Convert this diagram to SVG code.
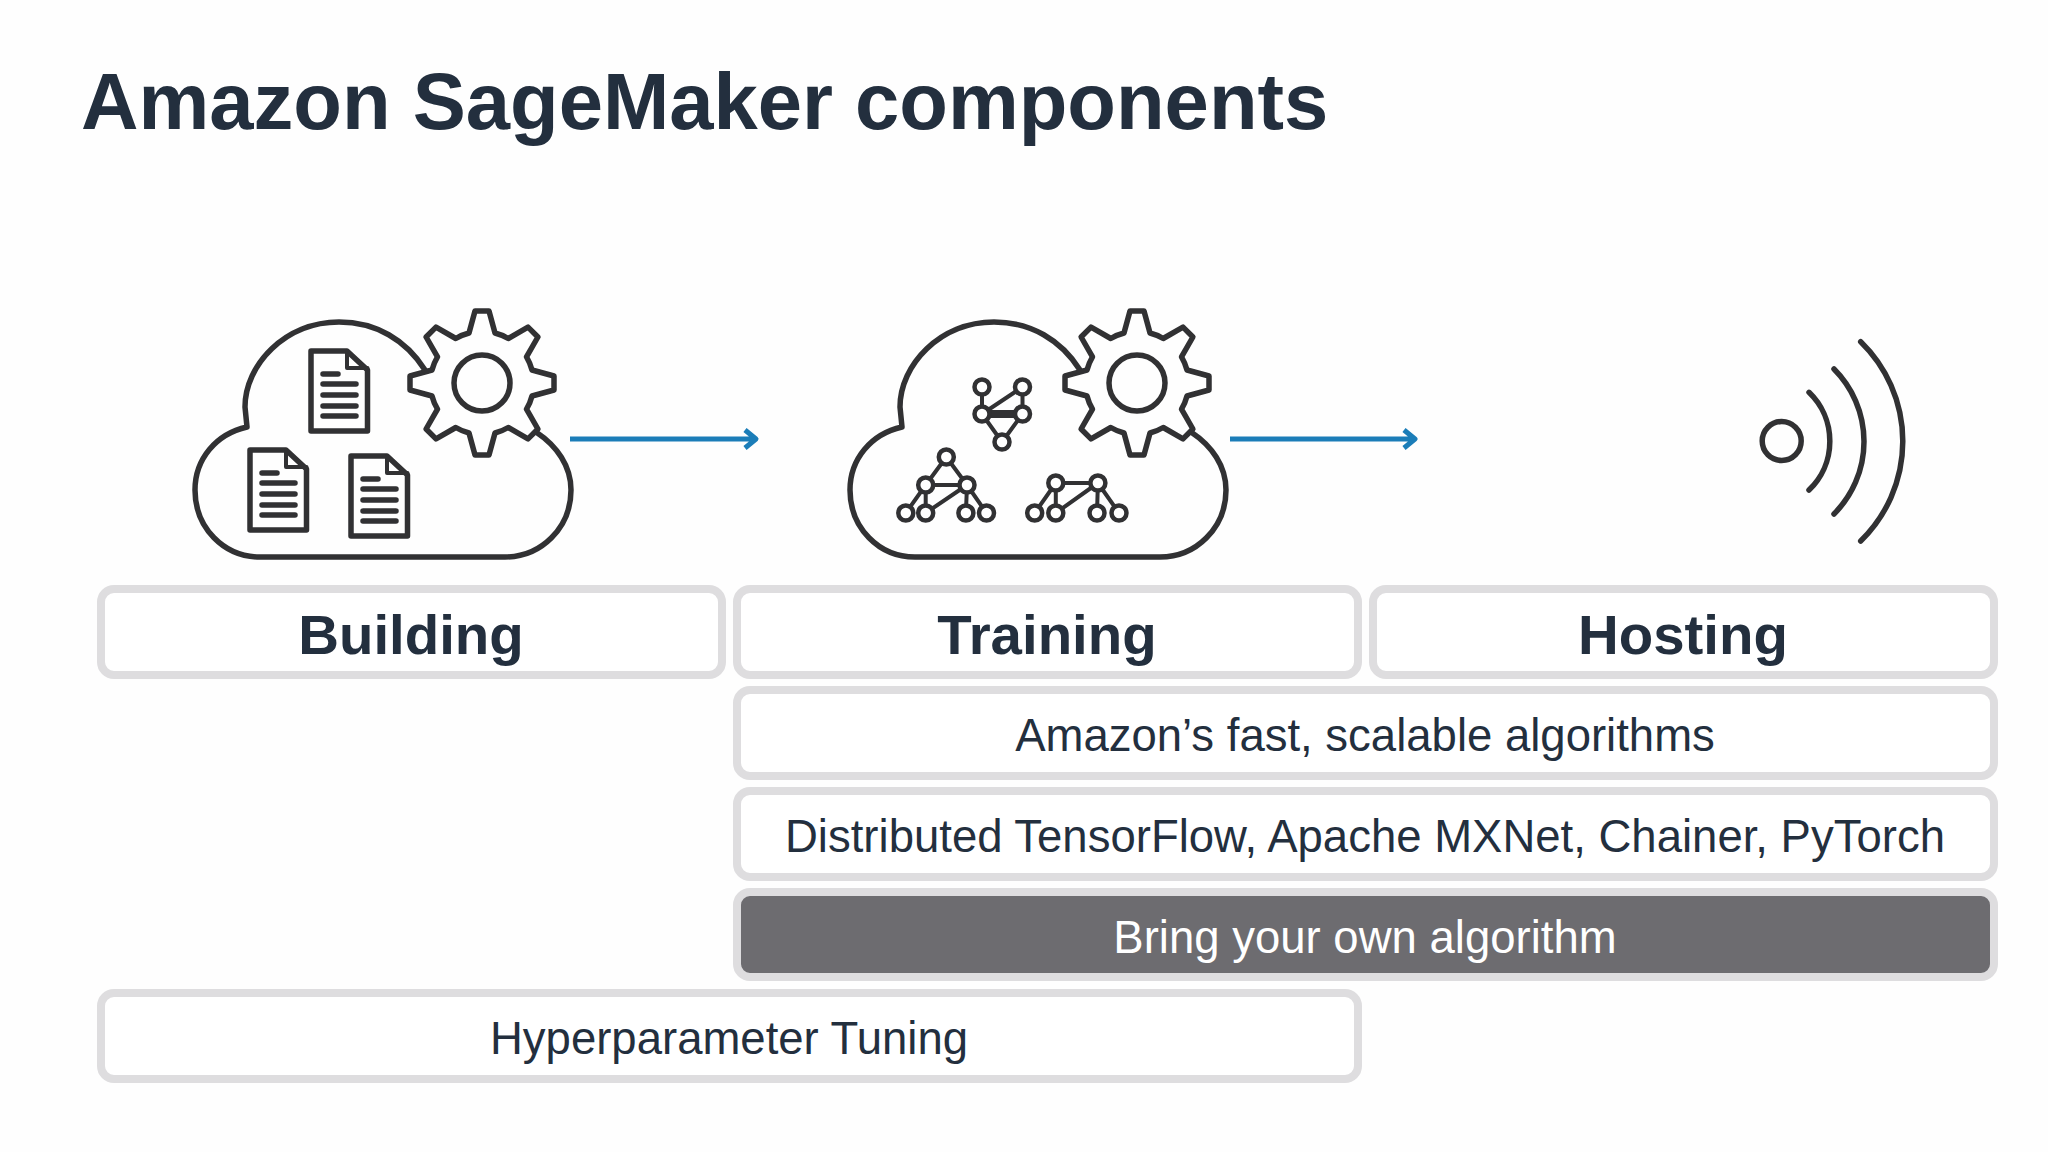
<svg xmlns="http://www.w3.org/2000/svg" width="2048" height="1152" viewBox="0 0 2048 1152">
<style>
text{font-family:"Liberation Sans",Arial,sans-serif;fill:#232f3e;text-anchor:middle}
.title{font-size:79.6px;font-weight:700;text-anchor:start}
.head{font-size:56.4px;font-weight:700}
.row{font-size:45.5px}
.box{fill:#fff;stroke:#dedddf;stroke-width:8}
.ic{fill:none;stroke:#313133;stroke-width:5.5;stroke-linecap:round;stroke-linejoin:round}
.thin{stroke-width:4}
.node{fill:#fff;stroke:#313133;stroke-width:4.5}
.conn{fill:none;stroke:#1b7db8;stroke-width:5;stroke-linecap:butt;stroke-linejoin:round}
</style>
<defs>
<g id="cloud"><path class="ic" d="M425 370C406 340 376 322 339 322C285 322 245 365 245 407L247 427C216 434 195 459 195 490C195 528 224 557 260 557H505C541 557 571 528 571 490C571 466 557 446 536 432"/>
<g transform="translate(482 383)"><path class="ic" d="M-13-50L-7-72H7L13-50A50 50 0 0 1 26.200-44.500L46-55.900L55.900-46L44.500-26.200A50 50 0 0 1 50-13L72-7V7L50 13A50 50 0 0 1 44.500 26.200L55.900 46L46 55.900L26.200 44.500A50 50 0 0 1 13 50L7 72H-7L-13 50A50 50 0 0 1-26.200 44.500L-46 55.900L-55.900 46L-44.500 26.200A50 50 0 0 1-50 13L-72 7V-7L-50-13A50 50 0 0 1-44.500-26.200L-55.900-46L-46-55.900L-26.200-44.500A50 50 0 0 1-13-50Z"/><circle class="ic" r="28"/></g></g>
<g id="doc"><path class="ic" d="M311 351H347L367.500 370V431H311Z"/><path class="ic thin" d="M347 351V368H367.500"/><path class="ic" d="M323 374H338M323 384H356M323 395H356M323 406H356M323 416H356"/></g>
</defs>
<rect width="2048" height="1152" fill="#fefefe"/>
<text class="title" x="81" y="129">Amazon SageMaker components</text>
<g id="building-icon"><use href="#cloud"/><use href="#doc"/><use href="#doc" x="-61" y="99"/><use href="#doc" x="40" y="105"/></g>
<g id="training-icon"><use href="#cloud" x="655"/>
<path class="ic thin" d="M982 387V414L1022.500 387V414M982 412H1022.500M982 416H1022.500M982 414L1002 442L1022.500 414"/>
<path class="ic thin" d="M925.700 485L946.300 457L967 485ZM925.700 485L905.800 513M925.700 485V513L967 485M967 485L965.900 513M967 485L986.500 513"/>
<path class="ic thin" d="M1055.800 483H1097.900M1055.800 483L1034.700 513M1055.800 483V513L1097.900 483M1097.900 483L1097 513M1097.900 483L1119 513"/>
<circle class="node" cx="982" cy="387" r="7.500"/><circle class="node" cx="1022.500" cy="387" r="7.500"/><circle class="node" cx="982" cy="414" r="7.500"/><circle class="node" cx="1022.500" cy="414" r="7.500"/><circle class="node" cx="1002" cy="442" r="7.500"/>
<circle class="node" cx="946.300" cy="457" r="7.500"/><circle class="node" cx="925.700" cy="485" r="7.500"/><circle class="node" cx="967" cy="485" r="7.500"/><circle class="node" cx="905.800" cy="513" r="7.500"/><circle class="node" cx="925.700" cy="513" r="7.500"/><circle class="node" cx="965.900" cy="513" r="7.500"/><circle class="node" cx="986.500" cy="513" r="7.500"/>
<circle class="node" cx="1055.800" cy="483" r="7.500"/><circle class="node" cx="1097.900" cy="483" r="7.500"/><circle class="node" cx="1034.700" cy="513" r="7.500"/><circle class="node" cx="1055.800" cy="513" r="7.500"/><circle class="node" cx="1097" cy="513" r="7.500"/><circle class="node" cx="1119" cy="513" r="7.500"/>
</g>
<g id="hosting-icon"><circle class="ic" cx="1781.700" cy="441" r="19.500"/><path class="ic" d="M1809 392.300A67.700 67.700 0 0 1 1809 490M1834 369A102.600 102.600 0 0 1 1834 514M1860.700 341.700A139 139 0 0 1 1860.700 541"/></g>
<g id="connectors"><path class="conn" d="M570 439H756M745 430L756 439L745 448"/><path class="conn" d="M1230 439H1415M1404 430L1415 439L1404 448"/></g>
<g id="building"><rect class="box" x="101" y="589" width="621" height="86" rx="13"/><text class="head" x="411" y="654">Building</text></g>
<g id="training"><rect class="box" x="737" y="589" width="621" height="86" rx="13"/><text class="head" x="1047" y="654">Training</text></g>
<g id="hosting"><rect class="box" x="1373" y="589" width="621" height="86" rx="13"/><text class="head" x="1683" y="654">Hosting</text></g>
<g id="amazon-algorithms"><rect class="box" x="737" y="690" width="1257" height="86" rx="13"/><text class="row" x="1365" y="751">Amazon’s fast, scalable algorithms</text></g>
<g id="frameworks"><rect class="box" x="737" y="791" width="1257" height="86" rx="13"/><text class="row" x="1365" y="852">Distributed TensorFlow, Apache MXNet, Chainer, PyTorch</text></g>
<g id="byo-algorithm"><rect class="box" style="fill:#6d6c70" x="737" y="892" width="1257" height="85" rx="13"/><text class="row" style="fill:#fff" x="1365" y="953">Bring your own algorithm</text></g>
<g id="hyperparameter"><rect class="box" x="101" y="993" width="1257" height="86" rx="13"/><text class="row" x="729" y="1054">Hyperparameter Tuning</text></g>
</svg>
